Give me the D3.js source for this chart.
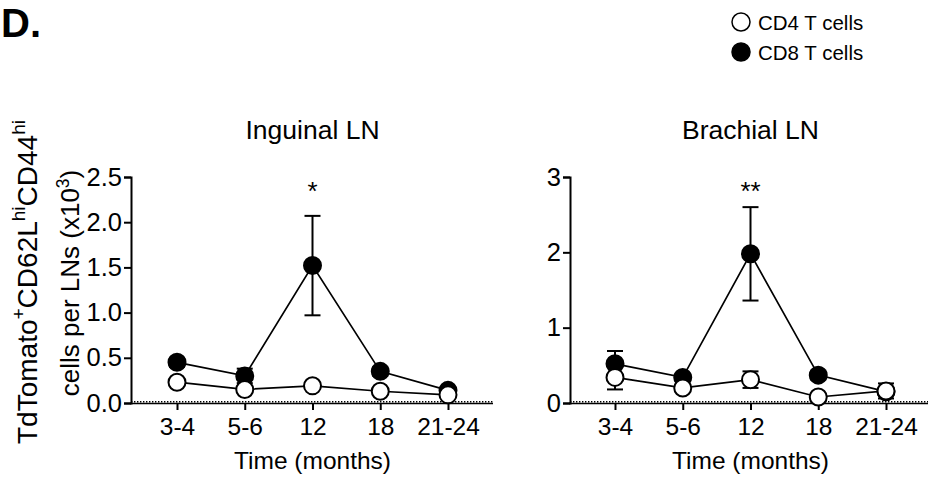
<!DOCTYPE html>
<html>
<head>
<meta charset="utf-8">
<script src="https://cdn.jsdelivr.net/npm/d3@7"></script>
<style>
  html, body { margin: 0; padding: 0; background: #fff; }
  svg { display: block; font-family: "Liberation Sans", Arial, Helvetica, sans-serif; }
</style>
</head>
<body>
<svg id="chart" width="928" height="479"></svg>
<script>
// ---- data ----
const categories = ["3-4", "5-6", "12", "18", "21-24"];

const inguinalCD4 = [0.23, 0.15, 0.19, 0.13, 0.09];
const inguinalCD4Err = [0.03, 0.02, 0.03, 0.02, 0.01];
const inguinalCD8 = [0.45, 0.30, 1.52, 0.35, 0.14];
const inguinalCD8Err = [0.05, 0.08, 0.55, 0.05, 0.02];

const brachialCD4 = [0.34, 0.20, 0.31, 0.08, 0.16];
const brachialCD4Err = [0.16, 0.03, 0.11, 0.03, 0.10];
const brachialCD8 = [0.52, 0.34, 1.98, 0.37, 0.15];
const brachialCD8Err = [0.17, 0.05, 0.62, 0.06, 0.03];

const inguinalTicks = [0, 0.5, 1.0, 1.5, 2.0, 2.5];
const brachialTicks = [0, 1, 2, 3];

const seriesNames = ["CD4 T cells", "CD8 T cells"];

// ---- drawing ----
const svg = d3.select("#chart");

function panel(opts) {
  const g = svg.append("g");
  const x = d3.scalePoint().domain(categories).range(opts.xRange);
  const y = d3.scaleLinear().domain([0, opts.yMax]).range([403, 177]);

  // y axis
  const yAxis = d3.axisLeft(y).tickValues(opts.ticks).tickFormat(opts.fmt)
    .tickSizeOuter(0).tickSize(7).tickPadding(2);
  const ya = g.append("g").attr("transform", `translate(${opts.axisX},0)`).call(yAxis);
  ya.select(".domain").attr("stroke", "#000").attr("stroke-width", 2);
  ya.selectAll(".tick line").attr("stroke", "#000").attr("stroke-width", 2);
  ya.selectAll(".tick text").attr("font-size", 25.5).attr("fill", "#000");

  // x axis (ticks + labels, no domain; baseline drawn separately)
  const xAxis = d3.axisBottom(x).tickSize(7).tickPadding(8).tickSizeOuter(0);
  const xa = g.append("g").attr("transform", `translate(0,403)`).call(xAxis);
  xa.select(".domain").remove();
  xa.selectAll(".tick line").attr("stroke", "#000").attr("stroke-width", 2);
  xa.selectAll(".tick text").attr("font-size", 24.5).attr("fill", "#000");

  // baseline: solid + dotted
  g.append("line").attr("x1", opts.axisX - 1).attr("x2", opts.axisEnd)
    .attr("y1", y(0) + 0.5).attr("y2", y(0) + 0.5)
    .attr("stroke", "#000").attr("stroke-width", 1.5);
  g.append("line").attr("x1", opts.axisX).attr("x2", opts.axisEnd)
    .attr("y1", y(0) - 1.2).attr("y2", y(0) - 1.2)
    .attr("stroke", "#000").attr("stroke-width", 1.4).attr("stroke-dasharray", "1.4,1.6");

  const line = d3.line().x((d, i) => x(categories[i])).y(d => y(d));

  const series = [
    { vals: opts.cd8, err: opts.cd8Err, fill: "#000" },
    { vals: opts.cd4, err: opts.cd4Err, fill: "#fff" }
  ];

  series.forEach(s => {
    g.append("path").datum(s.vals).attr("d", line)
      .attr("fill", "none").attr("stroke", "#000").attr("stroke-width", 1.7);
  });
  series.forEach(s => {
    const eb = g.append("g");
    s.vals.forEach((v, i) => {
      const cx = x(categories[i]);
      const top = y(v + s.err[i]), bot = y(Math.max(0, v - s.err[i]));
      eb.append("line").attr("x1", cx).attr("x2", cx).attr("y1", top).attr("y2", bot)
        .attr("stroke", "#000").attr("stroke-width", 2);
      [top, bot].forEach(yy => eb.append("line").attr("x1", cx - 8).attr("x2", cx + 8)
        .attr("y1", yy).attr("y2", yy).attr("stroke", "#000").attr("stroke-width", 2));
    });
  });
  series.forEach(s => {
    g.append("g").selectAll("circle").data(s.vals).join("circle")
      .attr("cx", (d, i) => x(categories[i])).attr("cy", d => y(d))
      .attr("r", 8.5).attr("fill", s.fill).attr("stroke", "#000").attr("stroke-width", 2);
  });

  const mid = (opts.xRange[0] + opts.xRange[1]) / 2;
  g.append("text").attr("x", mid).attr("y", 139).attr("text-anchor", "middle")
    .attr("font-size", 26.5).text(opts.title);
  g.append("text").attr("x", mid).attr("y", 200).attr("text-anchor", "middle")
    .attr("font-size", 26).text(opts.sig);
  g.append("text").attr("x", mid).attr("y", 469).attr("text-anchor", "middle")
    .attr("font-size", 24.5).text("Time (months)");
}

panel({
  xRange: [177, 448], axisX: 131, axisEnd: 493, yMax: 2.5,
  ticks: inguinalTicks, fmt: d3.format(".1f"),
  cd4: inguinalCD4, cd4Err: inguinalCD4Err, cd8: inguinalCD8, cd8Err: inguinalCD8Err,
  title: "Inguinal LN", sig: "*"
});
panel({
  xRange: [615, 886], axisX: 570, axisEnd: 928, yMax: 3,
  ticks: brachialTicks, fmt: d3.format("d"),
  cd4: brachialCD4, cd4Err: brachialCD4Err, cd8: brachialCD8, cd8Err: brachialCD8Err,
  title: "Brachial LN", sig: "**"
});

// y-axis label (two lines)
const yl1 = svg.append("text").attr("transform", "translate(37,282) rotate(-90)")
  .attr("text-anchor", "middle").attr("font-size", 28);
yl1.append("tspan").text("TdTomato");
yl1.append("tspan").attr("font-size", 19).attr("dy", -12).text("+");
yl1.append("tspan").attr("dy", 12).text("CD62L");
yl1.append("tspan").attr("font-size", 19).attr("dy", -12).text("hi");
yl1.append("tspan").attr("dy", 12).text("CD44");
yl1.append("tspan").attr("font-size", 19).attr("dy", -12).text("hi");

const yl2 = svg.append("text").attr("transform", "translate(79,283) rotate(-90)")
  .attr("text-anchor", "middle").attr("font-size", 26);
yl2.append("tspan").text("cells per LNs (x10");
yl2.append("tspan").attr("font-size", 17.5).attr("dy", -10).text("3");
yl2.append("tspan").attr("dy", 10).text(")");

// panel letter
svg.append("text").attr("x", 1).attr("y", 37).attr("font-size", 40)
  .attr("font-weight", "bold").text("D.");

// legend
const lg = svg.append("g");
seriesNames.forEach((name, i) => {
  const cy = 22 + i * 30;
  lg.append("circle").attr("cx", 741).attr("cy", cy).attr("r", 9)
    .attr("fill", i === 0 ? "#fff" : "#000").attr("stroke", "#000").attr("stroke-width", 1.5);
  lg.append("text").attr("x", 758).attr("y", cy + 7.5).attr("font-size", 20.5).text(name);
});
</script>
</body>
</html>
